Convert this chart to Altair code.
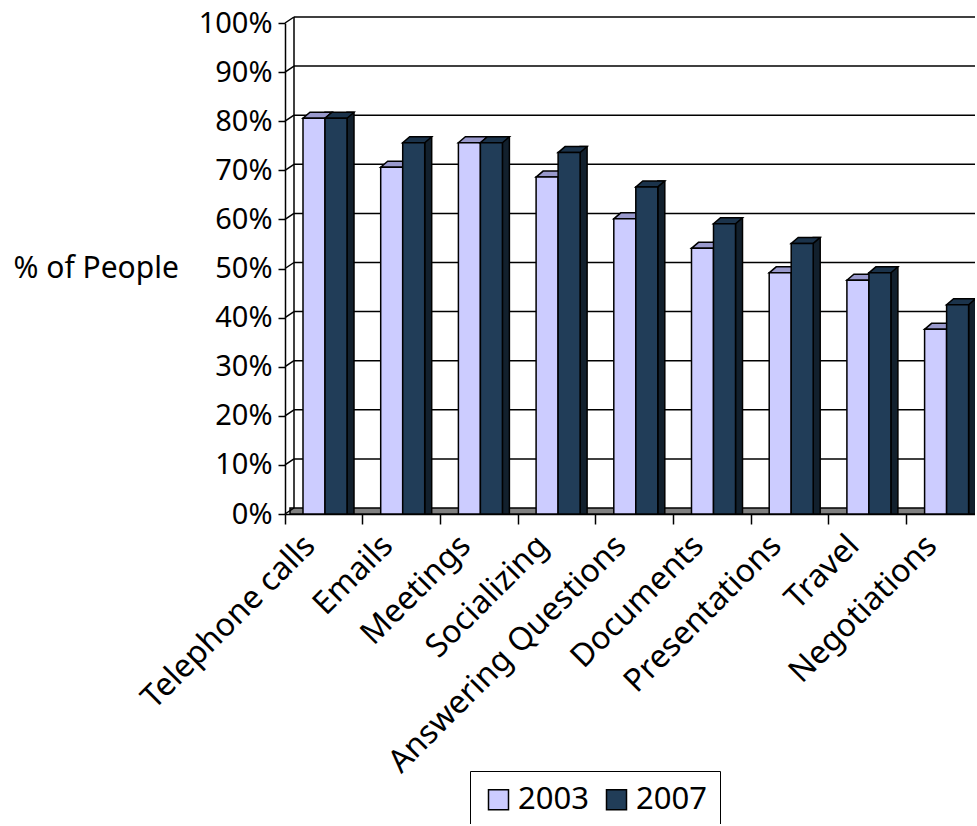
import altair as alt
import pandas as pd

# ---------------- data ----------------
categories = ["Telephone calls", "Emails", "Meetings", "Socializing",
              "Answering Questions", "Documents", "Presentations", "Travel",
              "Negotiations"]
pct_2003 = [80, 70, 75, 68, 59.5, 53.5, 48.5, 47, 37]
pct_2007 = [80, 75, 75, 73, 66, 58.5, 54.5, 48.5, 42]
years = ["2003", "2007"]
y_ticks = [0, 10, 20, 30, 40, 50, 60, 70, 80, 90, 100]

# ---------------- styling ----------------
front_colors = ["#ccccff", "#213d58"]
top_colors = ["#9999cc", "#1b334b"]
side_colors = ["#8080b0", "#12202d"]
FONT = "Noto Sans"

rows = []
for c, a, b in zip(categories, pct_2003, pct_2007):
    rows.append({"category": c, "year": "2003", "pct": a})
    rows.append({"category": c, "year": "2007", "pct": b})
bars = pd.DataFrame(rows)
ticks_df = pd.DataFrame({"v": y_ticks})
grid_df = pd.DataFrame({"v": [t for t in y_ticks if t > 0]})
wall_df = pd.DataFrame({"lo": [0], "hi": [100]})

W, H = 690, 491
BAND = 77.7
XR = BAND * len(categories)

y_scale = alt.Scale(domain=[0, 100], nice=False, zero=True)

x_enc = alt.X(
    "category:N", sort=categories,
    scale=alt.Scale(domain=categories, range=[0, XR], paddingInner=0, paddingOuter=0),
    axis=alt.Axis(title=None, bandPosition=0, tickSize=10, tickColor="black",
                  tickWidth=1.5, domainColor="black", domainWidth=1.5,
                  labelAngle=315, labelAlign="right", labelBaseline="middle",
                  labelFontSize=32, labelFont=FONT, labelColor="black",
                  labelPadding=16, labelOffset=-14, labelOverlap=False,
                  labelLimit=0, grid=False))

y_axis = alt.Axis(values=y_ticks, labelExpr="datum.value + '%'",
                  title="% of People", titleAngle=0, titleX=-272, titleY=245,
                  titleAlign="left", titleBaseline="middle", titleFontSize=30,
                  titleFont=FONT, titleFontWeight="normal", titleColor="black",
                  labelFontSize=29, labelFont=FONT, labelColor="black",
                  tickSize=7, tickColor="black", tickWidth=1.5,
                  domainColor="black", domainWidth=1.5, labelPadding=6,
                  grid=False)


def Y(field):
    return alt.Y(field, scale=y_scale, axis=y_axis, title="% of People")


legend = alt.Legend(title=None, orient="none", legendX=185, legendY=748,
                    direction="horizontal", symbolType="square", symbolSize=400,
                    symbolStrokeColor="black", symbolStrokeWidth=1.5,
                    symbolOpacity=1, labelFontSize=31, labelFont=FONT,
                    labelColor="black", labelOffset=4, columnPadding=12,
                    padding=13, strokeColor="black", fillColor="white")

# ---------------- structure (floor / walls) ----------------
floor = alt.Chart(pd.DataFrame({"v": [0]})).mark_rect(
    fill="#808080", stroke="black", strokeWidth=1.5, yOffset=-6, y2Offset=0
).encode(y=Y("v:Q"), y2=alt.datum(0), x=alt.value(5), x2=alt.value(W + 30))

grid = alt.Chart(grid_df).mark_rule(color="black", strokeWidth=1.5, yOffset=-6).encode(
    y=Y("v:Q"), x=alt.value(9), x2=alt.value(W + 30))

wall_back = alt.Chart(wall_df).mark_rule(color="black", strokeWidth=1.5,
                                         yOffset=-6, y2Offset=-6).encode(
    y=Y("lo:Q"), y2="hi:Q", x=alt.value(9))

wall_diag = alt.Chart(ticks_df).mark_rule(color="black", strokeWidth=1.5,
                                          y2Offset=-6).encode(
    y=Y("v:Q"), y2="v:Q", x=alt.value(0), x2=alt.value(9))

TOP_PATH = "M -14.5 3 L 7.5 3 L 14.5 -3 L -7.5 -3 Z"

layers = [floor, grid, wall_back, wall_diag]
offsets = {"2003": -9.85, "2007": 12.15}
for i, yr in enumerate(years):
    o = offsets[yr]
    base = alt.Chart(bars).transform_filter(f"datum.year == '{yr}'")
    side = base.mark_bar(width=7, xOffset=o + 14.5, yOffset=-9, y2Offset=0,
                         fill=side_colors[i], stroke="black", strokeWidth=1.5).encode(
        x=x_enc, y=Y("pct:Q"), y2=alt.datum(0))
    top = base.mark_point(shape=TOP_PATH, size=4, filled=True, fill=top_colors[i],
                          stroke="black", strokeWidth=1.5, opacity=1,
                          xOffset=o + 3.5, yOffset=-6).encode(
        x=x_enc, y=Y("pct:Q"))
    front = base.mark_bar(width=22, xOffset=o, yOffset=-3, y2Offset=0,
                          stroke="black", strokeWidth=1.5, opacity=1).encode(
        x=x_enc, y=Y("pct:Q"), y2=alt.datum(0),
        color=alt.Color("year:N", scale=alt.Scale(domain=years, range=front_colors),
                        legend=legend))
    layers += [side, top, front]

chart = alt.layer(*layers).properties(
    width=W, height=H,
    autosize=alt.AutoSizeParams(type="none"),
    padding={"left": 285, "top": 23, "right": 0, "bottom": 310},
    background="white",
).configure_view(stroke=None)

chart.save("out.html", embed_options={"renderer": "svg", "actions": False})
